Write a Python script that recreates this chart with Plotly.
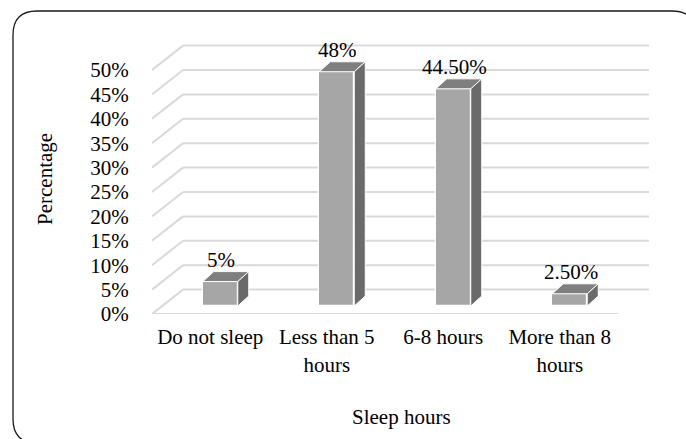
import plotly.graph_objects as go

# ---- data ----
categories = ["Do not sleep", "Less than 5<br>hours", "6-8 hours", "More than 8<br>hours"]
values = [0.05, 0.48, 0.445, 0.025]
value_labels = ["5%", "48%", "44.50%", "2.50%"]
y_ticks = [0.0, 0.05, 0.10, 0.15, 0.20, 0.25, 0.30, 0.35, 0.40, 0.45, 0.50]
y_tick_labels = ["0%", "5%", "10%", "15%", "20%", "25%", "30%", "35%", "40%", "45%", "50%"]

# ---- figure geometry ----
W, H = 686, 439
ML, MR, MT, MB = 152, 36, 38, 125
PX_PER_X = 116.5          # pixels per category unit
PX_PER_Y = 488.0          # pixels per 100 %
plot_w = W - ML - MR
plot_h = H - MT - MB
x_max = plot_w / PX_PER_X
y_max = plot_h / PX_PER_Y

# perspective offsets of the back wall (data units)
DX = 31 / PX_PER_X
DY = 0.05
# bar placement inside the depth
BX = 10 / PX_PER_X
BY = 8 / PX_PER_Y
BAR_W = 35 / PX_PER_X
SX = 11 / PX_PER_X
SY = 10 / PX_PER_Y

FONT = "Liberation Serif"
FS = 21
GRID = "#d9d9d9"
FRONT = "#a6a6a6"
TOP = "#7f7f7f"
SIDE = "#6a6a6a"

fig = go.Figure()

# ---- wall / floor grid ----
shapes = []
for v in y_ticks:
    # back wall line
    shapes.append(dict(type="line", xref="x", yref="y", x0=DX, x1=4 + DX, y0=v + DY, y1=v + DY,
                       line=dict(color=GRID, width=2), layer="below"))
    # side wall slant
    shapes.append(dict(type="line", xref="x", yref="y", x0=0, x1=DX, y0=v, y1=v + DY,
                       line=dict(color=GRID, width=2), layer="below"))
# front edge of the floor
shapes.append(dict(type="line", xref="x", yref="y", x0=0, x1=4, y0=0, y1=0,
                   line=dict(color=GRID, width=2), layer="below"))

# ---- bars: front faces ----
centers = [i + 0.5 + BX for i in range(len(values))]
fig.add_trace(go.Bar(
    x=centers, y=values, base=BY, width=BAR_W,
    marker=dict(color=FRONT, line=dict(color="white", width=1.2)),
    hoverinfo="skip", showlegend=False,
))

# ---- bars: top and side faces ----
for c, v in zip(centers, values):
    top = BY + v
    xl, xr = c - BAR_W / 2, c + BAR_W / 2
    fig.add_trace(go.Scatter(
        x=[xl, xr, xr + SX, xl + SX, xl],
        y=[top, top, top + SY, top + SY, top],
        mode="lines", fill="toself", fillcolor=TOP,
        line=dict(color="white", width=1), hoverinfo="skip", showlegend=False,
    ))
    fig.add_trace(go.Scatter(
        x=[xr, xr + SX, xr + SX, xr, xr],
        y=[BY, BY + SY, top + SY, top, BY],
        mode="lines", fill="toself", fillcolor=SIDE,
        line=dict(color="white", width=1), hoverinfo="skip", showlegend=False,
    ))

# ---- value labels ----
annotations = []
for c, v, t in zip(centers, values, value_labels):
    annotations.append(dict(
        x=c + 0.01, y=BY + v + SY, xref="x", yref="y", text=t, showarrow=False,
        xanchor="center", yanchor="bottom", yshift=-2,
        font=dict(family=FONT, size=FS, color="black"),
    ))

# ---- axis titles ----
def paper_x(px):
    return (px - ML) / plot_w

def paper_y(py):
    return (H - MB - py) / plot_h

annotations.append(dict(x=paper_x(401), y=paper_y(417), xref="paper", yref="paper",
                        text="Sleep hours", showarrow=False, xanchor="center", yanchor="middle",
                        font=dict(family=FONT, size=FS, color="black")))
annotations.append(dict(x=paper_x(45), y=paper_y(179), xref="paper", yref="paper",
                        text="Percentage", showarrow=False, xanchor="center", yanchor="middle",
                        textangle=-90, font=dict(family=FONT, size=FS, color="black")))

# ---- rounded outer frame ----
def corner_path(x0, y0, x1, y1, r):
    X = paper_x
    Y = paper_y
    return (f"M {X(x0 + r)},{Y(y0)} L {X(x1 - r)},{Y(y0)} Q {X(x1)},{Y(y0)} {X(x1)},{Y(y0 + r)} "
            f"L {X(x1)},{Y(y1 - r)} Q {X(x1)},{Y(y1)} {X(x1 - r)},{Y(y1)} "
            f"L {X(x0 + r)},{Y(y1)} Q {X(x0)},{Y(y1)} {X(x0)},{Y(y1 - r)} "
            f"L {X(x0)},{Y(y0 + r)} Q {X(x0)},{Y(y0)} {X(x0 + r)},{Y(y0)} Z")

shapes.append(dict(type="path", xref="paper", yref="paper",
                   path=corner_path(13, 11, 696, 443, 24),
                   line=dict(color="#1a1a1a", width=1.3), layer="above"))

fig.update_layout(
    width=W, height=H,
    margin=dict(l=ML, r=MR, t=MT, b=MB, pad=0),
    paper_bgcolor="white", plot_bgcolor="white",
    shapes=shapes, annotations=annotations,
    showlegend=False, bargap=0,
    font=dict(family=FONT, size=FS, color="black"),
    xaxis=dict(range=[0, x_max], tickmode="array", tickvals=[i + 0.5 for i in range(4)],
               ticktext=categories, showgrid=False, zeroline=False, showline=False,
               ticks="outside", ticklen=4, tickcolor="rgba(0,0,0,0)",
               tickfont=dict(family=FONT, size=FS, color="black"), fixedrange=True),
    yaxis=dict(range=[0, y_max], tickmode="array", tickvals=y_ticks, ticktext=y_tick_labels,
               showgrid=False, zeroline=False, showline=False,
               ticks="outside", ticklen=18, tickcolor="rgba(0,0,0,0)",
               tickfont=dict(family=FONT, size=FS, color="black"), fixedrange=True),
)

fig.write_html("out.html", config={"displayModeBar": False})
